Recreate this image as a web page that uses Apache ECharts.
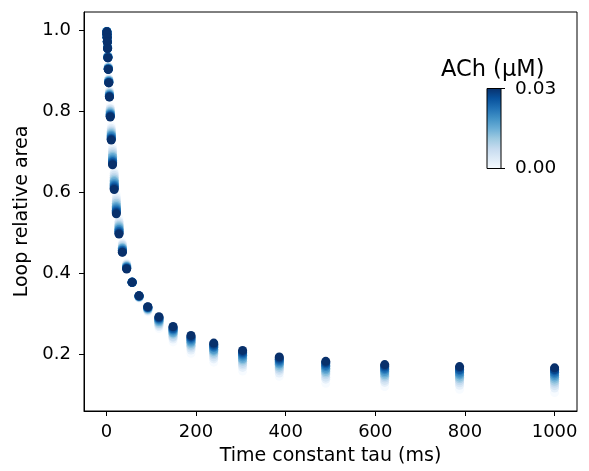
<!DOCTYPE html>
<html><head><meta charset="utf-8">
<script src="https://cdn.jsdelivr.net/npm/echarts@6/dist/echarts.min.js"></script>
<style>html,body{margin:0;padding:0;background:#fff}#c{width:589px;height:471px}</style>
</head><body><div id="c"></div>
<script>
// Time constant tau (ms)
const tau = [1.0,1.27,1.61,2.04,2.59,3.29,4.18,5.30,6.72,8.53,10.8,13.7,17.4,22.1,28.1,35.6,45.2,57.4,72.8,92.4,117.2,148.7,188.7,239.5,303.9,385.7,489.4,621.0,788.0,1000];
// ACh concentrations (uM)
const achLevels = [0, 0.0025, 0.005, 0.0075, 0.01, 0.0125, 0.015, 0.0175, 0.02, 0.0225, 0.025, 0.0275, 0.03];
// Loop relative area for each ACh level (one value per tau)
const area_0000 = [.997,.991,.984,.974,.960,.938,.911,.881,.851,.811,.763,.713,.655,.594,.535,.476,.425,.378,.338,.304,.263,.230,.202,.180,.158,.145,.128,.120,.113,.105];
const area_0025 = [.997,.991,.984,.973,.959,.937,.909,.879,.848,.806,.757,.705,.646,.586,.528,.472,.422,.378,.339,.306,.268,.237,.210,.188,.167,.153,.138,.130,.123,.116];
const area_0050 = [.996,.990,.983,.973,.958,.936,.908,.878,.846,.804,.753,.700,.641,.580,.524,.469,.421,.378,.340,.308,.271,.241,.215,.193,.173,.159,.143,.135,.129,.122];
const area_0075 = [.996,.990,.983,.973,.958,.935,.908,.876,.845,.801,.750,.696,.636,.576,.520,.467,.419,.378,.340,.309,.274,.244,.219,.198,.177,.163,.149,.141,.134,.128];
const area_0100 = [.996,.990,.983,.972,.957,.935,.907,.875,.843,.799,.747,.692,.632,.572,.517,.464,.418,.378,.341,.310,.276,.248,.222,.202,.182,.167,.153,.145,.139,.133];
const area_0125 = [.996,.990,.982,.972,.957,.934,.906,.875,.842,.797,.744,.688,.628,.568,.514,.462,.417,.377,.341,.311,.279,.251,.226,.206,.186,.171,.157,.149,.143,.138];
const area_0150 = [.996,.990,.982,.972,.956,.934,.905,.874,.841,.795,.741,.685,.625,.564,.511,.461,.416,.377,.342,.312,.281,.253,.229,.209,.189,.175,.161,.153,.148,.143];
const area_0175 = [.996,.990,.982,.971,.956,.933,.905,.873,.839,.793,.739,.681,.621,.561,.508,.459,.415,.377,.342,.313,.283,.256,.232,.212,.193,.178,.165,.157,.151,.147];
const area_0200 = [.995,.989,.982,.971,.955,.933,.904,.872,.838,.791,.737,.678,.618,.558,.506,.457,.414,.377,.343,.314,.285,.259,.235,.216,.197,.181,.169,.161,.155,.151];
const area_0225 = [.995,.989,.981,.971,.955,.932,.904,.871,.837,.790,.734,.675,.615,.555,.503,.456,.413,.377,.343,.315,.287,.261,.238,.218,.200,.184,.172,.164,.159,.155];
const area_0250 = [.995,.989,.981,.970,.955,.932,.903,.870,.836,.788,.732,.673,.612,.552,.501,.454,.412,.377,.343,.315,.289,.263,.241,.221,.203,.187,.176,.168,.162,.159];
const area_0275 = [.995,.989,.981,.970,.954,.931,.903,.870,.835,.787,.730,.670,.609,.549,.498,.452,.411,.377,.344,.316,.290,.266,.243,.224,.206,.190,.179,.171,.166,.162];
const area_0300 = [.995,.989,.981,.970,.954,.931,.902,.869,.834,.785,.728,.667,.606,.546,.496,.451,.410,.377,.344,.317,.292,.268,.246,.227,.209,.193,.182,.174,.169,.166];
const areaByLevel = [area_0000, area_0025, area_0050, area_0075, area_0100, area_0125, area_0150, area_0175, area_0200, area_0225, area_0250, area_0275, area_0300];
const xTicks = [0, 200, 400, 600, 800, 1000];
const yTicks = [0.2, 0.4, 0.6, 0.8, 1.0];
const cbarLabels = ['0.03', '0.00'];

const blues = ['#f7fbff','#deebf7','#c6dbef','#9ecae1','#6baed6','#4292c6','#2171b5','#08519c','#08306b'];

const data = [];
achLevels.forEach((c, li) => {
  tau.forEach((t, i) => data.push([t, areaByLevel[li][i], c]));
});

const FONT = 'DejaVu Sans';
const chart = echarts.init(document.getElementById('c'), null, {renderer: 'canvas'});
const stops = blues.slice().reverse().map((col, i, a) => ({offset: i / (a.length - 1), color: col}));

chart.setOption({
  animation: false,
  backgroundColor: '#fff',
  grid: {left: 84, right: 12, top: 12, bottom: 57, show: true, borderColor: '#000', borderWidth: 1, backgroundColor: 'transparent'},
  xAxis: {
    type: 'value', min: -50, max: 1050,
    name: 'Time constant tau (ms)', nameLocation: 'middle', nameGap: 36,
    nameTextStyle: {fontFamily: FONT, fontSize: 19, color: '#000'},
    axisLine: {show: true, onZero: false, lineStyle: {color: '#000', width: 1}},
    axisTick: {show: true, length: 5, lineStyle: {color: '#000'}, customValues: xTicks},
    axisLabel: {fontFamily: FONT, fontSize: 18, color: '#000', margin: 12, customValues: xTicks, formatter: v => String(v)},
    splitLine: {show: false}
  },
  yAxis: {
    type: 'value', min: 0.0595, max: 1.044,
    name: 'Loop relative area', nameLocation: 'middle', nameGap: 49,
    nameTextStyle: {fontFamily: FONT, fontSize: 19, color: '#000'},
    axisLine: {show: true, onZero: false, lineStyle: {color: '#000', width: 1}},
    axisTick: {show: true, length: 5, lineStyle: {color: '#000'}, customValues: yTicks},
    axisLabel: {fontFamily: FONT, fontSize: 18, color: '#000', margin: 13, customValues: yTicks, formatter: v => v.toFixed(1)},
    splitLine: {show: false}
  },
  visualMap: {
    show: false, type: 'continuous', dimension: 2, min: 0, max: 0.03, seriesIndex: 0,
    inRange: {color: blues}
  },
  series: [{
    type: 'scatter', data: data, symbol: 'circle', symbolSize: 9,
    itemStyle: {opacity: 1}, silent: true
  }],
  graphic: [
    {type: 'text', x: 441, y: 70, style: {text: 'ACh (μM)', font: '22.5px "DejaVu Sans"', fill: '#000', verticalAlign: 'middle'}},
    {type: 'rect', shape: {x: 487, y: 88.5, width: 14, height: 80}, style: {fill: new echarts.graphic.LinearGradient(0, 0, 0, 1, stops), stroke: '#000', lineWidth: 1}},
    {type: 'line', shape: {x1: 501, y1: 88.5, x2: 505, y2: 88.5}, style: {stroke: '#000', lineWidth: 1}},
    {type: 'line', shape: {x1: 501, y1: 168.5, x2: 505, y2: 168.5}, style: {stroke: '#000', lineWidth: 1}},
    {type: 'text', x: 515, y: 89.5, style: {text: cbarLabels[0], font: '18.5px "DejaVu Sans"', fill: '#000', verticalAlign: 'middle'}},
    {type: 'text', x: 515, y: 168.5, style: {text: cbarLabels[1], font: '18.5px "DejaVu Sans"', fill: '#000', verticalAlign: 'middle'}}
  ]
});
</script></body></html>
